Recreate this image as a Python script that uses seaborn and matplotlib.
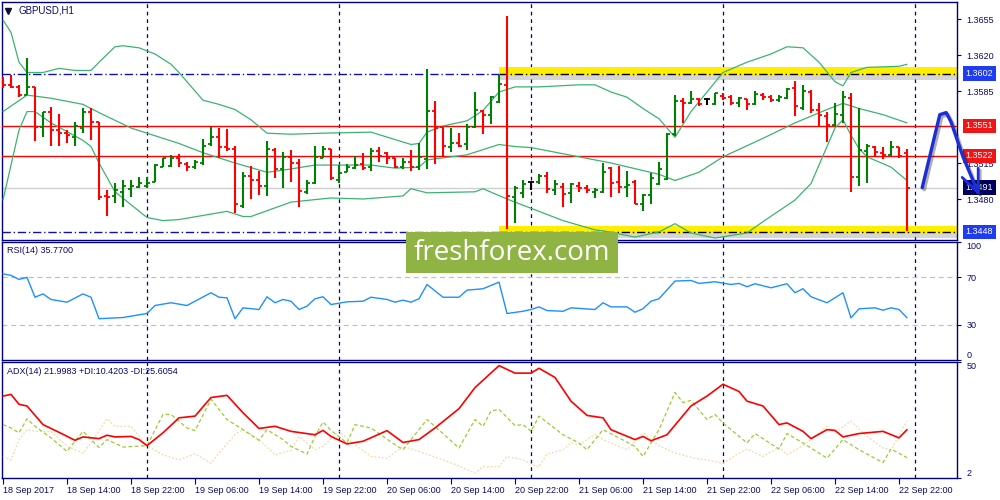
import numpy as np
import pandas as pd
import matplotlib
matplotlib.use("Agg")
import matplotlib.pyplot as plt
import matplotlib.transforms as mtrans
import matplotlib.patheffects as pe
from matplotlib.patches import Rectangle
import seaborn as sns

sns.set_theme(style="white")
plt.rcParams.update({
    'font.family': ['Liberation Sans', 'DejaVu Sans'],
    'font.size': 6.5,
})

# ---------------- data (GBPUSD H1, 18 Sep 06:00 .. 22 Sep 23:00) ----------------
bar_open = [1.3597, 1.3591, 1.3589, 1.3581, 1.3589, 1.3550, 1.3565, 1.3547, 1.3544, 1.3540,
            1.3549, 1.3565, 1.3555, 1.3483, 1.3483, 1.3487, 1.3490, 1.3492, 1.3493, 1.3497,
            1.3511, 1.3512, 1.3520, 1.3514, 1.3511, 1.3515, 1.3533, 1.3540, 1.3531, 1.3529,
            1.3473, 1.3502, 1.3498, 1.3493, 1.3528, 1.3509, 1.3521, 1.3515, 1.3487, 1.3496,
            1.3520, 1.3529, 1.3498, 1.3506, 1.3510, 1.3514, 1.3511, 1.3527, 1.3525, 1.3520,
            1.3511, 1.3516, 1.3511, 1.3519, 1.3566, 1.3550, 1.3531, 1.3534, 1.3533, 1.3550,
            1.3566, 1.3562, 1.3574, 1.3591, 1.3482, 1.3486, 1.3497, 1.3497, 1.3502, 1.3489,
            1.3492, 1.3486, 1.3493, 1.3491, 1.3487, 1.3487, 1.3510, 1.3497, 1.3492, 1.3497,
            1.3475, 1.3484, 1.3495, 1.3499, 1.3543, 1.3575, 1.3573, 1.3577, 1.3577, 1.3572,
            1.3580, 1.3579, 1.3573, 1.3577, 1.3572, 1.3581, 1.3579, 1.3576, 1.3578, 1.3588,
            1.3568, 1.3584, 1.3567, 1.3561, 1.3552, 1.3562, 1.3578, 1.3501, 1.3527, 1.3531,
            1.3525, 1.3523, 1.3531, 1.3525]
bar_high = [1.3599, 1.3601, 1.3591, 1.3617, 1.3589, 1.3565, 1.3569, 1.3563, 1.3547, 1.3555,
            1.3568, 1.3568, 1.3555, 1.3489, 1.3496, 1.3498, 1.3498, 1.3501, 1.3501, 1.3514,
            1.3520, 1.3523, 1.3524, 1.3516, 1.3518, 1.3538, 1.3550, 1.3549, 1.3548, 1.3532,
            1.3506, 1.3512, 1.3507, 1.3536, 1.3530, 1.3526, 1.3528, 1.3519, 1.3498, 1.3532,
            1.3532, 1.3529, 1.3513, 1.3514, 1.3522, 1.3525, 1.3530, 1.3531, 1.3526, 1.3520,
            1.3520, 1.3528, 1.3534, 1.3606, 1.3575, 1.3550, 1.3549, 1.3544, 1.3553, 1.3584,
            1.3567, 1.3580, 1.3601, 1.3658, 1.3493, 1.3498, 1.3497, 1.3504, 1.3506, 1.3498,
            1.3496, 1.3496, 1.3497, 1.3494, 1.3491, 1.3515, 1.3511, 1.3512, 1.3507, 1.3498,
            1.3485, 1.3505, 1.3516, 1.3544, 1.3581, 1.3578, 1.3585, 1.3578, 1.3578, 1.3583,
            1.3583, 1.3581, 1.3579, 1.3577, 1.3585, 1.3583, 1.3581, 1.3581, 1.3588, 1.3595,
            1.3591, 1.3586, 1.3573, 1.3565, 1.3573, 1.3585, 1.3583, 1.3568, 1.3533, 1.3532,
            1.3531, 1.3536, 1.3531, 1.3529]
bar_low = [1.3588, 1.3588, 1.3579, 1.3581, 1.3536, 1.3540, 1.3532, 1.3532, 1.3534, 1.3532,
           1.3544, 1.3537, 1.3479, 1.3463, 1.3476, 1.3472, 1.3482, 1.3491, 1.3491, 1.3497,
           1.3511, 1.3511, 1.3511, 1.3507, 1.3509, 1.3513, 1.3532, 1.3520, 1.3527, 1.3466,
           1.3471, 1.3480, 1.3484, 1.3483, 1.3500, 1.3491, 1.3497, 1.3472, 1.3485, 1.3495,
           1.3520, 1.3498, 1.3496, 1.3506, 1.3509, 1.3508, 1.3507, 1.3516, 1.3514, 1.3510,
           1.3509, 1.3507, 1.3508, 1.3509, 1.3514, 1.3521, 1.3526, 1.3531, 1.3528, 1.3549,
           1.3543, 1.3553, 1.3573, 1.3451, 1.3457, 1.3481, 1.3489, 1.3495, 1.3486, 1.3484,
           1.3472, 1.3476, 1.3487, 1.3486, 1.3481, 1.3486, 1.3482, 1.3486, 1.3482, 1.3475,
           1.3468, 1.3475, 1.3494, 1.3498, 1.3541, 1.3554, 1.3572, 1.3570, 1.3571, 1.3571,
           1.3576, 1.3571, 1.3569, 1.3567, 1.3571, 1.3576, 1.3574, 1.3574, 1.3577, 1.3561,
           1.3567, 1.3564, 1.3551, 1.3535, 1.3551, 1.3554, 1.3487, 1.3493, 1.3496, 1.3521,
           1.3519, 1.3522, 1.3520, 1.3449]
bar_close = [1.3591, 1.3589, 1.3581, 1.3589, 1.3550, 1.3565, 1.3547, 1.3544, 1.3542, 1.3551,
             1.3565, 1.3555, 1.3482, 1.3482, 1.3489, 1.3493, 1.3493, 1.3496, 1.3496, 1.3513,
             1.3520, 1.3520, 1.3515, 1.3511, 1.3516, 1.3532, 1.3540, 1.3531, 1.3529, 1.3475,
             1.3502, 1.3498, 1.3493, 1.3529, 1.3509, 1.3521, 1.3515, 1.3488, 1.3496, 1.3521,
             1.3529, 1.3500, 1.3505, 1.3511, 1.3513, 1.3510, 1.3527, 1.3522, 1.3520, 1.3511,
             1.3516, 1.3511, 1.3521, 1.3566, 1.3549, 1.3532, 1.3534, 1.3532, 1.3550, 1.3567,
             1.3562, 1.3579, 1.3592, 1.3483, 1.3491, 1.3495, 1.3497, 1.3502, 1.3490, 1.3495,
             1.3485, 1.3495, 1.3491, 1.3489, 1.3489, 1.3506, 1.3496, 1.3492, 1.3494, 1.3475,
             1.3484, 1.3500, 1.3509, 1.3543, 1.3575, 1.3573, 1.3577, 1.3572, 1.3577, 1.3583,
             1.3578, 1.3573, 1.3578, 1.3572, 1.3582, 1.3579, 1.3576, 1.3579, 1.3587, 1.3570,
             1.3585, 1.3567, 1.3562, 1.3552, 1.3563, 1.3579, 1.3501, 1.3528, 1.3532, 1.3526,
             1.3523, 1.3531, 1.3522, 1.3491]

# Bollinger bands (read at the bars where the lines bend)
bb_up_idx = [0, 1, 2, 3, 5, 7, 9, 11, 12, 14, 15, 17, 19, 21, 22, 25, 27, 29, 31, 33, 36, 40, 46,
             51, 52, 53, 55, 58, 60, 61, 62, 64, 67, 72, 74, 76, 78, 80, 82, 84, 86, 88, 90, 93,
             96, 98, 100, 102, 104, 105, 106, 108, 112, 113]
bb_up = [1.3654, 1.3642, 1.3613, 1.3603, 1.3603, 1.3607, 1.3605, 1.3605, 1.3613, 1.3628, 1.3629,
         1.3627, 1.3621, 1.3611, 1.3603, 1.3576, 1.3572, 1.3567, 1.3557, 1.3544, 1.3543, 1.3544,
         1.3545, 1.3533, 1.3534, 1.3545, 1.3551, 1.3556, 1.3566, 1.3575, 1.3584, 1.3589, 1.3589,
         1.3591, 1.3591, 1.3584, 1.3579, 1.3568, 1.3558, 1.3540, 1.3565, 1.3584, 1.3603, 1.3613,
         1.3621, 1.3628, 1.3627, 1.3613, 1.3594, 1.3590, 1.3603, 1.3608, 1.3609, 1.3611]
bb_mid_idx = [0, 3, 6, 10, 12, 16, 18, 22, 25, 29, 33, 35, 39, 41, 46, 49, 52, 53, 58, 62, 64, 66,
              70, 74, 76, 82, 84, 87, 90, 95, 99, 103, 105, 107, 110, 113]
bb_mid = [1.3565, 1.3581, 1.3578, 1.3572, 1.3564, 1.3549, 1.3544, 1.3534, 1.3525, 1.3515, 1.3506,
          1.3508, 1.3513, 1.3513, 1.3513, 1.3510, 1.3511, 1.3518, 1.3523, 1.3533, 1.3531, 1.3530,
          1.3524, 1.3518, 1.3515, 1.3504, 1.3498, 1.3506, 1.3521, 1.3539, 1.3554, 1.3567, 1.3573,
          1.3568, 1.3562, 1.3554]
bb_low_idx = [0, 1, 2, 3, 4, 6, 10, 11, 12, 14, 18, 20, 22, 28, 30, 31, 36, 41, 45, 50, 51, 53,
              59, 60, 63, 66, 70, 74, 75, 79, 82, 84, 86, 89, 93, 95, 99, 101, 103, 104, 105, 106,
              107, 108, 111, 113]
bb_low = [1.3479, 1.3513, 1.3547, 1.3565, 1.3565, 1.3554, 1.3537, 1.3531, 1.3515, 1.3487, 1.3462,
          1.3459, 1.3460, 1.3468, 1.3463, 1.3463, 1.3477, 1.3481, 1.3480, 1.3483, 1.3490, 1.3486,
          1.3487, 1.3490, 1.3480, 1.3471, 1.3459, 1.3450, 1.3449, 1.3443, 1.3448, 1.3456, 1.3447,
          1.3442, 1.3447, 1.3458, 1.3479, 1.3495, 1.3531, 1.3549, 1.3557, 1.3542, 1.3529, 1.3521,
          1.3511, 1.3498]

# RSI(14)
rsi_idx = [0, 1, 2, 3, 4, 5, 6, 8, 10, 11, 12, 15, 18, 19, 21, 23, 26, 27, 28, 29, 30, 32, 33, 34,
           35, 36, 37, 38, 39, 40, 41, 43, 45, 46, 48, 49, 50, 51, 52, 53, 55, 57, 58, 60, 62, 63,
           65, 66, 67, 68, 70, 71, 74, 75, 76, 78, 79, 80, 81, 82, 84, 86, 87, 89, 91, 92, 93, 94,
           96, 98, 99, 100, 101, 103, 105, 106, 107, 109, 110, 111, 112, 113]
rsi = [73.0, 71.7, 68.3, 70.0, 53.2, 56.0, 51.3, 49.0, 56.0, 53.2, 35.0, 36.0, 39.4, 46.2, 48.5,
       46.2, 57.0, 53.2, 52.7, 35.0, 44.2, 42.8, 53.6, 48.5, 51.3, 49.8, 42.8, 45.6, 51.9, 53.6,
       47.0, 49.3, 49.8, 53.2, 51.3, 49.0, 50.7, 49.0, 51.9, 64.0, 53.2, 53.2, 59.2, 60.4, 66.0,
       39.4, 41.3, 42.8, 45.0, 41.9, 41.3, 44.2, 42.8, 48.5, 45.0, 45.0, 40.5, 43.4, 49.8, 51.9,
       66.9, 67.4, 64.9, 66.3, 64.0, 64.9, 62.1, 64.6, 61.2, 64.6, 57.0, 60.4, 53.6, 48.5, 57.0,
       35.7, 43.4, 44.2, 42.2, 44.2, 42.8, 35.77]

# ADX(14), +DI, -DI
adx_idx = [0, 1, 2, 3, 5, 7, 9, 10, 12, 13, 14, 16, 17, 18, 20, 22, 24, 26, 28, 30, 32, 34, 36, 39,
           40, 41, 43, 45, 48, 50, 52, 54, 57, 59, 62, 64, 66, 67, 69, 71, 73, 75, 76, 79, 80, 81,
           83, 86, 88, 90, 92, 93, 95, 97, 98, 100, 101, 103, 104, 105, 107, 110, 112, 113]
adx = [35.9, 36.6, 32.5, 31.8, 24.1, 20.9, 17.6, 19.0, 18.3, 19.7, 19.0, 19.2, 17.9, 15.4, 20.7,
       26.9, 27.6, 35.3, 36.2, 29.0, 22.5, 23.4, 21.3, 19.9, 21.7, 19.2, 16.1, 17.2, 21.6, 16.7,
       17.9, 22.7, 30.7, 39.4, 48.5, 45.4, 45.4, 47.4, 43.6, 33.8, 27.9, 26.9, 22.0, 17.9, 19.2,
       17.4, 19.9, 31.8, 35.9, 40.8, 37.8, 33.8, 31.8, 24.1, 24.8, 21.3, 18.3, 22.0, 21.7, 19.0,
       20.4, 21.3, 18.6, 21.9983]
pdi_idx = [0, 1, 2, 3, 4, 6, 8, 10, 11, 12, 13, 15, 18, 20, 21, 23, 24, 26, 28, 30, 32, 33, 35,
           36, 38, 39, 40, 41, 43, 44, 46, 49, 50, 51, 53, 55, 57, 59, 60, 61, 62, 64, 65, 66, 67,
           70, 72, 73, 75, 77, 79, 80, 82, 84, 85, 86, 88, 89, 90, 93, 94, 97, 98, 100, 103, 105,
           107, 110, 111, 113]
pdi = [24.1, 22.7, 20.7, 26.5, 23.4, 18.6, 13.0, 21.3, 17.9, 14.6, 17.9, 14.8, 15.4, 28.3, 28.3,
       22.7, 21.6, 34.6, 26.2, 22.0, 17.6, 22.0, 17.9, 15.1, 11.9, 19.2, 25.2, 21.7, 16.5, 24.1,
       22.7, 15.8, 13.7, 17.9, 26.2, 20.4, 14.4, 26.2, 23.4, 29.7, 30.4, 23.7, 24.1, 21.3, 27.6,
       19.9, 16.5, 13.7, 22.0, 18.6, 15.1, 10.9, 22.0, 37.4, 33.2, 34.1, 26.2, 28.3, 24.8, 16.5,
       20.4, 14.0, 20.4, 16.5, 10.2, 17.9, 13.7, 8.4, 14.0, 10.4203]
mdi_idx = [0, 1, 2, 3, 4, 6, 8, 10, 11, 13, 14, 16, 18, 20, 22, 24, 26, 27, 29, 30, 32, 34, 36,
           37, 39, 40, 42, 44, 46, 48, 50, 52, 55, 57, 59, 60, 62, 63, 65, 66, 67, 68, 70, 71, 72,
           74, 75, 78, 80, 82, 84, 87, 88, 90, 92, 93, 95, 97, 98, 100, 101, 103, 104, 106, 108,
           110, 111, 113]
mdi = [10.9, 9.5, 17.9, 22.0, 21.3, 21.3, 15.1, 12.3, 16.5, 26.5, 23.4, 23.4, 15.4, 11.6, 9.5,
       12.0, 8.1, 12.3, 20.0, 22.0, 17.9, 11.6, 13.4, 19.2, 13.7, 15.1, 21.3, 15.8, 10.9, 10.2,
       15.1, 13.0, 9.5, 7.0, 4.0, 6.7, 6.7, 10.9, 9.5, 7.8, 6.7, 11.9, 13.7, 16.5, 15.8, 20.0,
       17.9, 13.7, 20.7, 15.4, 12.3, 9.8, 9.5, 8.1, 12.3, 14.0, 10.9, 14.8, 11.6, 15.4, 17.9,
       23.4, 20.9, 25.5, 19.2, 14.4, 13.7, 25.6054]

# chart furniture
red_levels = [1.3551, 1.3522]
zone_levels = [1.3602, 1.3448]
zone_start = 62
bid_price = 1.3491
price_ticks = [1.3655, 1.3620, 1.3585, 1.3515, 1.3480]
price_tags = [(1.3602, '#1f3cf2'), (1.3551, '#f01414'), (1.3522, '#f01414'),
              (1.3491, '#00005e'), (1.3448, '#1f3cf2')]
day_idx = [18, 42, 66, 90, 114]
time_idx = list(range(0, 113, 8))
time_labels = ['18 Sep 2017', '18 Sep 14:00', '18 Sep 22:00', '19 Sep 06:00', '19 Sep 14:00',
               '19 Sep 22:00', '20 Sep 06:00', '20 Sep 14:00', '20 Sep 22:00', '21 Sep 06:00',
               '21 Sep 14:00', '21 Sep 22:00', '22 Sep 06:00', '22 Sep 14:00', '22 Sep 22:00']
arrow_idx = [114.9, 117.1, 117.9, 118.5, 120.0, 121.9]
arrow_px = [1.3491, 1.3562, 1.3564, 1.3555, 1.3521, 1.3486]
head_idx = [119.9, 121.9, 121.9]
head_px = [1.3501, 1.3486, 1.3510]

NAVY = '#0a0a6e'
FRAME = '#00007a'
X_LIM = (-0.125, 119.25)

fig = plt.figure(figsize=(10, 5), dpi=100)
fig.patch.set_facecolor('white')
ax_p = fig.add_axes([0.002, 0.52, 0.955, 0.476])
ax_r = fig.add_axes([0.002, 0.28, 0.955, 0.236])
ax_a = fig.add_axes([0.002, 0.044, 0.955, 0.232])

for ax in (ax_p, ax_r, ax_a):
    ax.set_xlim(*X_LIM)
    ax.set_facecolor('white')
    for sp in ax.spines.values():
        sp.set_color(FRAME)
        sp.set_linewidth(1.0)
    ax.yaxis.tick_right()
    ax.tick_params(axis='y', direction='out', length=3, width=0.8, pad=4,
                   colors=FRAME, labelcolor=NAVY, labelsize=6.5, right=True, left=False)
    for d in day_idx:
        ax.axvline(d, color=FRAME, lw=0.9, ls=(0, (3, 3)), zorder=1)

# ---------------- price panel ----------------
ax_p.set_ylim(1.344014, 1.367153)
ax_p.set_yticks(price_ticks)
ax_p.set_yticklabels([f'{v:.4f}' for v in price_ticks])
ax_p.set_xticks([])

for lv in zone_levels:
    ax_p.axhline(lv, color='#1010b0', lw=1.0, ls=(0, (6, 2, 1, 2)), zorder=2)
    ax_p.fill_between([zone_start, X_LIM[1]], lv - 0.0006, lv - 0.0002,
                      color='#9a9a9a', alpha=0.4, lw=0, zorder=2)
    ax_p.fill_between([zone_start, X_LIM[1]], lv - 0.0002, lv + 0.0006,
                      color='#ffee00', lw=0, zorder=2.5)
    ax_p.plot([zone_start, X_LIM[1]], [lv, lv], color='black', lw=1.0,
              ls=(0, (6, 2, 1, 2)), zorder=2.6)

for lv in red_levels:
    ax_p.axhline(lv, color='#ff0000', lw=1.0, zorder=3)
ax_p.axhline(bid_price, color='#cfcfcf', lw=1.0, zorder=1.5)

sns.lineplot(x=bb_up_idx, y=bb_up, ax=ax_p, color='#3cb371', lw=0.9, zorder=4)
sns.lineplot(x=bb_mid_idx, y=bb_mid, ax=ax_p, color='#3cb371', lw=0.9, zorder=4)
sns.lineplot(x=bb_low_idx, y=bb_low, ax=ax_p, color='#3cb371', lw=0.9, zorder=4)

bars = pd.DataFrame({'o': bar_open, 'h': bar_high, 'l': bar_low, 'c': bar_close})
bars['i'] = np.arange(len(bars))
bar_col = np.where(bars['c'] > bars['o'] + 1e-9, '#008000',
                   np.where(bars['c'] < bars['o'] - 1e-9, '#ff0000', '#000000'))
ax_p.vlines(bars['i'], bars['l'], bars['h'], colors=bar_col, lw=1.5, zorder=5)
ax_p.hlines(bars['o'], bars['i'] - 0.42, bars['i'], colors=bar_col, lw=1.3, zorder=5)
ax_p.hlines(bars['c'], bars['i'], bars['i'] + 0.42, colors=bar_col, lw=1.3, zorder=5)

blend = mtrans.blended_transform_factory(ax_p.transAxes, ax_p.transData)
for lv, col in price_tags:
    ax_p.text(1.009, lv, f'{lv:.4f}', transform=blend, ha='left', va='center',
              color='white', fontsize=6.5, clip_on=False, zorder=10,
              bbox=dict(boxstyle='square,pad=0.3', fc=col, ec='none'))

shadow = [pe.SimpleLineShadow(offset=(1.5, -1.5), alpha=0.35), pe.Normal()]
ax_p.plot(arrow_idx, arrow_px, color='#1c2ed6', lw=2.4, clip_on=False, zorder=12,
          solid_capstyle='round', path_effects=shadow)
ax_p.plot(head_idx, head_px, color='#1c2ed6', lw=2.0, clip_on=False, zorder=12,
          path_effects=shadow)

ax_p.plot([0.0063], [0.963], marker='v', ms=4, color='#10103a', transform=ax_p.transAxes)
ax_p.text(0.0168, 0.963, 'GBPUSD,H1', transform=ax_p.transAxes, ha='left', va='center',
          color=NAVY, fontsize=7)

# ---------------- RSI panel ----------------
ax_r.set_ylim(0, 100)
ax_r.set_yticks([100, 70, 30, 0])
ax_r.set_yticklabels(['100', '70', '30', '0'])
lbls = ax_r.get_yticklabels()
lbls[0].set_va('top')
lbls[3].set_va('bottom')
ax_r.set_xticks([])
for lv in (70, 30):
    ax_r.axhline(lv, color='#c0c0c0', lw=0.9, ls=(0, (4, 3)), zorder=1)
sns.lineplot(x=rsi_idx, y=rsi, ax=ax_r, color='#1e90ff', lw=1.0, zorder=4)
ax_r.text(0.005, 0.924, 'RSI(14) 35.7700', transform=ax_r.transAxes, ha='left',
          va='center', color=NAVY, fontsize=6.5)

# ---------------- ADX panel ----------------
ax_a.set_ylim(2, 50)
ax_a.set_yticks([50, 2])
ax_a.set_yticklabels(['50', '2'])
lbls = ax_a.get_yticklabels()
lbls[0].set_va('top')
lbls[1].set_va('bottom')
sns.lineplot(x=mdi_idx, y=mdi, ax=ax_a, color='#f5d9a6', lw=0.9, linestyle=(0, (1.5, 1.5)), zorder=3)
sns.lineplot(x=pdi_idx, y=pdi, ax=ax_a, color='#9acd32', lw=0.9, linestyle=(0, (3, 2)), zorder=3)
sns.lineplot(x=adx_idx, y=adx, ax=ax_a, color='#ff0000', lw=1.2, zorder=4)
ax_a.text(0.005, 0.922, 'ADX(14) 21.9983 +DI:10.4203 -DI:25.6054', transform=ax_a.transAxes,
          ha='left', va='center', color=NAVY, fontsize=6.5)
ax_a.set_xticks(time_idx)
ax_a.set_xticklabels(time_labels, ha='left')
ax_a.tick_params(axis='x', direction='out', length=4, width=0.8, pad=2,
                 colors=FRAME, labelcolor=NAVY, labelsize=6.5, bottom=True)
for ax in (ax_p, ax_r, ax_a):
    ax.set_xlabel('')
    ax.set_ylabel('')

# watermark
fig.add_artist(Rectangle((0.406, 0.454), 0.212, 0.082, transform=fig.transFigure,
                         facecolor='#8fb443', edgecolor='none', zorder=20))
fig.text(0.512, 0.494, 'freshforex.com', ha='center', va='center', color='white',
         fontsize=20, family=['Open Sans', 'DejaVu Sans'], zorder=21)

fig.savefig('out.png', dpi=100, facecolor='white')
